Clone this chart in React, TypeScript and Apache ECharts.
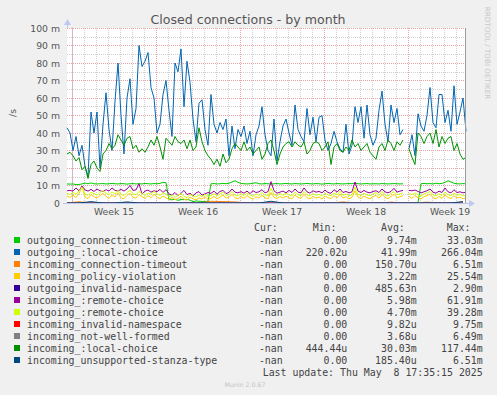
import React, { useEffect, useRef } from "react";
import * as echarts from "echarts";

// ---------------- data ----------------
const chartTitle = "Closed connections - by month";
const unitLabel = "/s";
const watermark = "RRDTOOL / TOBI OETIKER";
const versionLabel = "Munin 2.0.67";
const lastUpdate = "Last update: Thu May  8 17:35:15 2025";

// x axis in hours relative to Monday 00:00 of week 15
const xMinHour = -10;
const xMaxHour = 788;
const weekLabels = ["Week 15", "Week 16", "Week 17", "Week 18", "Week 19"];
const weekCenterHours = [84, 252, 420, 588, 756];
const weekStartHours = [0, 168, 336, 504, 672];

const sampleStartHour = -10; // 6-hourly arrays
const sampleStepHours = 6;
const dailyStartHour = -10; // daily arrays
const dailyStepHours = 24;

// values in milli-connections per second
const outgoingConnectionTimeout = [
  10.9, 10.8, 10.9, 10.5, 10.6, 10.9, 11.4, 11.0, 11.5, 11.0,
  10.9, 11.0, 11.1, 10.9, 11.0, 11.2, 11.0, 10.9, 11.1, 11.0,
  10.8, 11.0, 11.1, 10.9, 11.0, 10.9, 11.2, 11.0, 10.9, 11.1,
  11.0, 11.2, 11.8, 11.6, 2.0, 1.8, 2.2, 1.5, 2.0, 1.9,
  2.1, 1.6, 0.8, 1.2, 1.0, 0.9, 0.8, 1.0, 11.0, 11.1,
  10.9, 11.0, 11.2, 11.0, 11.3, 12.0, 12.7, 11.8, 11.2, 11.0,
  10.9, 11.0, 11.3, 11.6, 11.0, 10.9, 11.1, 11.0, 10.8, 11.0,
  11.1, 10.9, 11.0, 11.2, 11.0, 10.9, 11.1, 11.0, 10.9, 11.0,
  11.2, 11.0, 10.9, 11.1, 11.0, 10.8, 11.0, 11.2, 11.0, 10.9,
  11.1, 11.0, 10.9, 11.0, 11.1, 11.0, 11.4, 11.0, 10.9, 11.0,
  11.1, 10.9, 11.0, 11.0, 10.9, 11.1, 11.0, 10.9, 11.0, 11.1,
  11.0, 10.9, 11.0, null, 0.3, 0.2, 0.3, 0.2, 11.0, 11.2,
  11.0, 11.1, 10.9, 11.3, 11.0, 11.2, 11.8, 12.7, 12.0, 11.3,
  11.0, 10.9, 11.1, 11.0,
];
const outgoingLocalChoice = [
  43, 40, 30, 38, 27, 33, 21, 15, 52, 40,
  52, 20, 45, 63, 42, 30, 58, 80, 50, 28,
  60, 71, 45, 54, 90, 78, 81, 86, 66, 60,
  40, 45, 62, 70, 53, 38, 80, 75, 88, 55,
  81, 69, 48, 35, 57, 59, 42, 33, 62, 45,
  40, 46, 42, 48, 27, 44, 31, 42, 38, 44,
  34, 41, 27, 39, 44, 55, 39, 30, 27, 48,
  24, 35, 44, 48, 40, 33, 56, 42, 38, 35,
  54, 39, 49, 35, 49, 50, 36, 30, 34, 41,
  35, 31, 29, 45, 28, 33, 55, 46, 55, 37,
  56, 39, 33, 37, 53, 64, 45, 35, 56, 46,
  54, 39, 42, null, 31, 39, 27, 51, 44, 41,
  50, 66, 46, 43, 62, 62, 46, 53, 41, 67,
  45, 52, 60, 41,
];
const incomingConnectionTimeout = [
  0, 0.7, 0, 0, 0, 0, 0, 0, 0, 0,
  0, 0, 1.0, 0.8, 0.6, 0, 0, 0, 0, 0,
  0, 0, 0, 0.6, 0, 0, 0, 0.5, 0, 0,
  0.5, 0, 0, 0.6,
];
const incomingPolicyViolation = [
  4.0, 3.2, 4.5, 3.0, 5.2, 9.5, 3.5, 2.5, 4.8, 3.6,
  2.8, 4.2, 5.5, 3.8, 2.6, 4.6, 3.4, 5.8, 3.0, 2.4,
  4.4, 5.6, 3.2, 2.8, 4.8, 3.6, 2.6, 4.2, 3.0, 5.0,
  3.4, 2.5, 4.0, 3.0, 2.0, 3.2, 1.8, 2.6, 3.8, 2.2,
  1.6, 3.4, 2.4, 1.8, 3.0, 2.2, 3.6, 2.0, 2.6, 3.8,
  2.4, 3.4, 4.6, 2.8, 3.2, 5.0, 3.0, 2.4, 3.8, 2.6,
  4.2, 3.0, 2.2, 3.6, 2.8, 4.4, 3.0, 2.4, 6.0, 3.2,
  2.6, 3.8, 2.8, 4.0, 3.0, 2.4, 4.6, 3.2, 2.6, 5.0,
  3.0, 2.4, 3.8, 2.8, 3.4, 2.2, 4.0, 3.0, 2.6, 4.2,
  3.0, 5.2, 2.8, 3.6, 2.4, 3.2, 7.0, 3.4, 2.6, 4.0,
  3.0, 2.4, 3.6, 4.4, 2.8, 5.0, 3.2, 2.4, 3.8, 5.0,
  3.0, 3.6, 4.2, null, 3.8, 2.6, 4.4, 3.0, 2.4, 3.6,
  4.2, 5.0, 3.0, 2.4, 3.8, 2.6, 4.6, 3.2, 2.6, 4.2,
  2.8, 3.4, 2.4, 3.0,
];
const outgoingInvalidNamespace = [
  0, 0, 0, 0, 0, 0, 0, 0, 0, 0.2,
  0, 0, 0, 0, 0, 0, 0, 0, 0, 0,
  0, 0, 0, 0, 0, 0, 0, 0, 0, 0,
  0, 0, 0, 0,
];
const incomingRemoteChoice = [
  7.0, 7.2, 6.8, 8.6, 7.0, 9.7, 7.5, 6.8, 7.8, 6.6,
  8.0, 7.0, 6.5, 7.6, 6.8, 8.6, 7.2, 6.9, 7.8, 6.8,
  8.0, 10.0, 7.2, 7.5, 11.0, 5.1, 6.8, 7.4, 6.2, 7.0,
  6.5, 7.8, 6.0, 7.6, 5.2, 4.5, 6.0, 4.2, 5.5, 7.2,
  4.8, 5.6, 4.0, 5.8, 6.5, 4.5, 5.2, 6.0, 5.5, 6.8,
  5.0, 6.6, 7.2, 5.4, 6.0, 8.0, 6.2, 5.8, 6.5, 5.6,
  6.8, 5.4, 7.0, 6.0, 6.4, 7.6, 5.8, 6.5, 12.2, 7.0,
  5.6, 6.2, 6.8, 5.8, 7.2, 6.0, 8.0, 6.2, 5.8, 8.6,
  6.4, 5.6, 7.0, 6.2, 6.6, 5.8, 7.4, 6.0, 5.6, 7.6,
  6.2, 8.0, 6.0, 6.6, 5.8, 6.4, 12.0, 6.8, 6.0, 7.2,
  6.2, 5.8, 6.6, 7.0, 6.0, 8.0, 6.4, 5.8, 6.6, 8.4,
  6.2, 6.8, 7.2, null, 7.2, 7.0, 7.4, 6.6, 5.8, 6.4,
  7.0, 8.0, 6.2, 5.6, 6.8, 6.0, 8.6, 6.4, 5.8, 7.6,
  6.0, 6.4, 5.8, 6.2,
];
const outgoingRemoteChoice = [
  5.5, 4.8, 6.0, 5.0, 6.8, 9.0, 5.2, 4.4, 6.2, 5.4,
  4.6, 6.0, 7.0, 5.6, 4.8, 6.4, 5.2, 7.2, 5.0, 4.2,
  6.0, 7.4, 5.2, 4.6, 6.6, 5.4, 4.4, 5.8, 5.0, 6.6,
  5.2, 4.4, 5.8, 5.0, 3.6, 4.8, 3.2, 4.4, 5.4, 3.8,
  3.0, 5.0, 4.0, 3.4, 4.6, 3.6, 5.0, 3.6, 4.2, 5.4,
  4.0, 5.0, 6.2, 4.4, 4.8, 6.6, 4.6, 4.0, 5.4, 4.2,
  5.8, 4.6, 3.8, 5.2, 4.4, 6.0, 4.6, 4.0, 8.4, 4.8,
  4.2, 5.4, 4.4, 5.6, 4.6, 4.0, 6.2, 4.8, 4.2, 6.6,
  4.6, 4.0, 5.4, 4.4, 5.0, 3.8, 5.6, 4.6, 4.2, 5.8,
  4.6, 6.8, 4.4, 5.2, 4.0, 4.8, 9.0, 5.0, 4.2, 5.6,
  4.6, 4.0, 5.2, 6.0, 4.4, 6.6, 4.8, 4.0, 5.4, 6.6,
  4.6, 5.2, 5.8, null, 5.4, 4.8, 5.8, 4.6, 4.0, 5.2,
  5.8, 6.6, 4.6, 4.0, 5.4, 4.2, 6.2, 4.8, 4.2, 5.8,
  4.4, 5.0, 4.0, 4.6,
];
const incomingInvalidNamespace = [
  0, 0, 0, 0, 0, 0, 0, 0, 0, 0,
  0, 0, 0, 0, 0, 0, 0, 0, 0, 0,
  0, 0, 0, 0, 0, 0, 0, 0, 0, 0,
  0, 0, 0, 0,
];
const incomingNotWellFormed = [
  0, 0, 0, 0, 0, 0, 0, 0, 0, 0,
  0, 0, 0, 0, 0, 0, 0, 0, 0, 0,
  0.2, 0, 0, 0, 0, 0, 0, 0, 0, 0,
  0, 0, 0, 0,
];
const incomingLocalChoice = [
  28, 29, 27, 24, 26, 19, 21, 14, 22, 24,
  20, 18, 28, 30, 34, 31, 33, 39, 36, 33,
  37, 38, 31, 33, 29, 31, 29, 32, 36, 33,
  38, 32, 25, 37, 35, 33, 38, 35, 34, 36,
  31, 36, 30, 32, 43, 35, 30, 27, 25, 22,
  25, 21, 28, 23, 25, 31, 34, 32, 30, 35,
  30, 32, 28, 30, 32, 25, 28, 34, 36, 30,
  22, 28, 32, 34, 35, 32, 35, 33, 32, 35,
  28, 30, 34, 35, 34, 30, 32, 35, 22, 32,
  34, 30, 29, 32, 30, 36, 32, 34, 30, 32,
  34, 29, 27, 25, 32, 34, 30, 36, 34, 30,
  35, 33, 36, null, 31, 26, 22, 40, 38, 34,
  38, 40, 34, 42, 32, 38, 34, 37, 38, 30,
  34, 28, 25, 26,
];
const incomingUnsupportedStanzaType = [
  0, 0, 0.8, 0, 0, 0.6, 0, 0, 0, 0,
  0, 0, 0, 0, 0, 0, 0, 1.0, 0, 0,
  0, 0, 0, 0, 0, 0, 0, 0, 0, 0,
  0, 0, 0, 0.8,
];

const seriesNames = [
  "outgoing_connection-timeout",
  "outgoing_:local-choice",
  "incoming_connection-timeout",
  "incoming_policy-violation",
  "outgoing_invalid-namespace",
  "incoming_:remote-choice",
  "outgoing_:remote-choice",
  "incoming_invalid-namespace",
  "incoming_not-well-formed",
  "incoming_:local-choice",
  "incoming_unsupported-stanza-type",
];
const seriesColors = [
  "#00CC00", "#0066B3", "#FF8000", "#FFCC00", "#330099", "#990099",
  "#CCFF00", "#FF0000", "#808080", "#008F00", "#00487D",
];
const seriesValues = [
  outgoingConnectionTimeout, outgoingLocalChoice, incomingConnectionTimeout,
  incomingPolicyViolation, outgoingInvalidNamespace, incomingRemoteChoice,
  outgoingRemoteChoice, incomingInvalidNamespace, incomingNotWellFormed,
  incomingLocalChoice, incomingUnsupportedStanzaType,
];
const seriesDaily = [false, false, true, false, true, false, false, true, true, false, true];

const curValues = ["-nan", "-nan", "-nan", "-nan", "-nan", "-nan", "-nan", "-nan", "-nan", "-nan", "-nan"];
const minValues = ["0.00", "220.02u", "0.00", "0.00", "0.00", "0.00", "0.00", "0.00", "0.00", "444.44u", "0.00"];
const avgValues = ["9.74m", "41.99m", "150.70u", "3.22m", "485.63n", "5.98m", "4.70m", "9.82u", "3.68u", "30.03m", "185.40u"];
const maxValues = ["33.03m", "266.04m", "6.51m", "25.54m", "2.90m", "61.91m", "39.28m", "9.75m", "6.49m", "117.44m", "6.51m"];

// ---------------- chart ----------------
const SANS = '"DejaVu Sans", sans-serif';
const MONO = '"DejaVu Sans Mono", monospace';
const AXIS_COLOR = "#bcc8f0";

function toPairs(values: (number | null)[], start: number, step: number) {
  return values.map((v, i) => [start + i * step, v]);
}

export default function App() {
  const ref = useRef<HTMLDivElement>(null);

  useEffect(() => {
    document.body.style.margin = "0";
    const chart = echarts.init(ref.current!, undefined, { renderer: "svg", width: 497, height: 395 });

    const dayHours: number[] = [];
    for (let h = 24; h <= xMaxHour; h += 24) if (h % 168 !== 0) dayHours.push(h);

    const gridMarks = [
      ...dayHours.map((h) => ({ xAxis: h, lineStyle: { color: "#cfcfcf", type: [1, 1], width: 1 } })),
      ...weekStartHours.map((h) => ({ xAxis: h, lineStyle: { color: "#eba3a3", type: [1, 1], width: 1 } })),
    ];

    const series: any[] = seriesNames.map((name, i) => ({
      name,
      type: "line",
      data: seriesDaily[i]
        ? toPairs(seriesValues[i], dailyStartHour, dailyStepHours)
        : toPairs(seriesValues[i], sampleStartHour, sampleStepHours),
      showSymbol: false,
      symbol: "none",
      connectNulls: false,
      silent: true,
      clip: true,
      z: 2,
      lineStyle: { color: seriesColors[i], width: 1 },
      itemStyle: { color: seriesColors[i] },
      ...(i === 0
        ? {
            markLine: {
              z: 1,
              silent: true,
              symbol: "none",
              animation: false,
              label: { show: false },
              data: gridMarks,
            },
          }
        : {}),
    }));

    const text = (t: string, x: number, y: number, align: string, extra: any = {}) => ({
      type: "text",
      x,
      y,
      silent: true,
      style: {
        text: t,
        fill: "#444",
        font: `9.9px ${MONO}`,
        textAlign: align,
        verticalAlign: "middle",
        ...extra,
      },
    });

    const graphics: any[] = [
      text(chartTitle, 248, 19, "center", { font: `12.6px ${SANS}`, fill: "#555" }),
      {
        type: "text", x: 12, y: 113, rotation: Math.PI / 2, silent: true,
        style: { text: unitLabel, fill: "#555", font: `9.3px ${SANS}`, textAlign: "center", verticalAlign: "middle" },
      },
      {
        type: "text", x: 487, y: 53, rotation: -Math.PI / 2, silent: true,
        style: { text: watermark, fill: "#c8c8c8", font: `7.2px ${SANS}`, textAlign: "center", verticalAlign: "middle" },
      },
      // axis decorations
      { type: "line", silent: true, shape: { x1: 67.5, y1: 28, x2: 67.5, y2: 23 }, style: { stroke: AXIS_COLOR, lineWidth: 1 } },
      { type: "polygon", silent: true, shape: { points: [[64, 25], [71, 25], [67.5, 19]] }, style: { fill: AXIS_COLOR } },
      { type: "line", silent: true, shape: { x1: 63, y1: 203.5, x2: 67, y2: 203.5 }, style: { stroke: AXIS_COLOR, lineWidth: 1 } },
      { type: "line", silent: true, shape: { x1: 466, y1: 203.5, x2: 470, y2: 203.5 }, style: { stroke: AXIS_COLOR, lineWidth: 1 } },
      { type: "polygon", silent: true, shape: { points: [[469, 200], [469, 207], [475, 203.5]] }, style: { fill: AXIS_COLOR } },
      { type: "line", silent: true, z: 20, shape: { x1: 465.5, y1: 28, x2: 465.5, y2: 203 }, style: { stroke: "#9a9a9a", lineWidth: 1 } },
      // legend header
      text("Cur:", 254, 227, "left"),
      text("Min:", 312.7, 227, "left"),
      text("Avg:", 381, 227, "left"),
      text("Max:", 446.7, 227, "left"),
      text(lastUpdate, 482.7, 372, "right"),
      text(versionLabel, 245, 384, "center", { font: `6.3px ${SANS}`, fill: "#c4c4c4" }),
    ];

    seriesNames.forEach((name, i) => {
      const y = 240 + 12 * i;
      graphics.push({
        type: "rect", silent: true,
        shape: { x: 14, y: y - 3, width: 6, height: 6 },
        style: { fill: seriesColors[i] },
      });
      graphics.push(text(name, 27, y, "left"));
      graphics.push(text(curValues[i], 282.7, y, "right"));
      graphics.push(text(minValues[i], 347.3, y, "right"));
      graphics.push(text(avgValues[i], 416.7, y, "right"));
      graphics.push(text(maxValues[i], 482.7, y, "right"));
    });

    const option: any = {
      animation: false,
      backgroundColor: "#f0f0f0",
      grid: {
        left: 67, top: 28, right: 31, bottom: 192,
        show: true, backgroundColor: "#ffffff", borderWidth: 0,
      },
      xAxis: {
        type: "value",
        min: xMinHour,
        max: xMaxHour,
        z: 10,
        axisLine: { show: true, onZero: false, lineStyle: { color: AXIS_COLOR, width: 1 } },
        axisTick: { show: false },
        splitLine: { show: false },
        axisLabel: {
          customValues: weekCenterHours,
          formatter: (v: number) => {
            const idx = weekCenterHours.indexOf(Math.round(v));
            return idx >= 0 ? weekLabels[idx] : "";
          },
          color: "#555",
          fontFamily: SANS,
          fontSize: 9.3,
          margin: 4,
          showMinLabel: true,
          showMaxLabel: true,
        },
      },
      yAxis: {
        type: "value",
        min: 0,
        max: 100,
        interval: 10,
        axisLine: { show: true, lineStyle: { color: AXIS_COLOR, width: 1 } },
        axisTick: { show: false },
        axisLabel: {
          formatter: (v: number) => (v === 0 ? "0" : `${v} m`),
          color: "#555",
          fontFamily: SANS,
          fontSize: 9.3,
          margin: 7,
        },
        splitLine: { show: true, lineStyle: { color: "#eba3a3", type: [1, 1], width: 1 } },
        minorTick: { show: false, splitNumber: 2 },
        minorSplitLine: { show: true, lineStyle: { color: "#cfcfcf", type: [1, 1], width: 1 } },
      },
      graphic: graphics,
      series,
    };

    chart.setOption(option);
    return () => chart.dispose();
  }, []);

  return (
    <div
      ref={ref}
      style={{ width: 497, height: 395, position: "absolute", left: 0, top: 0, background: "#f0f0f0" }}
    />
  );
}
